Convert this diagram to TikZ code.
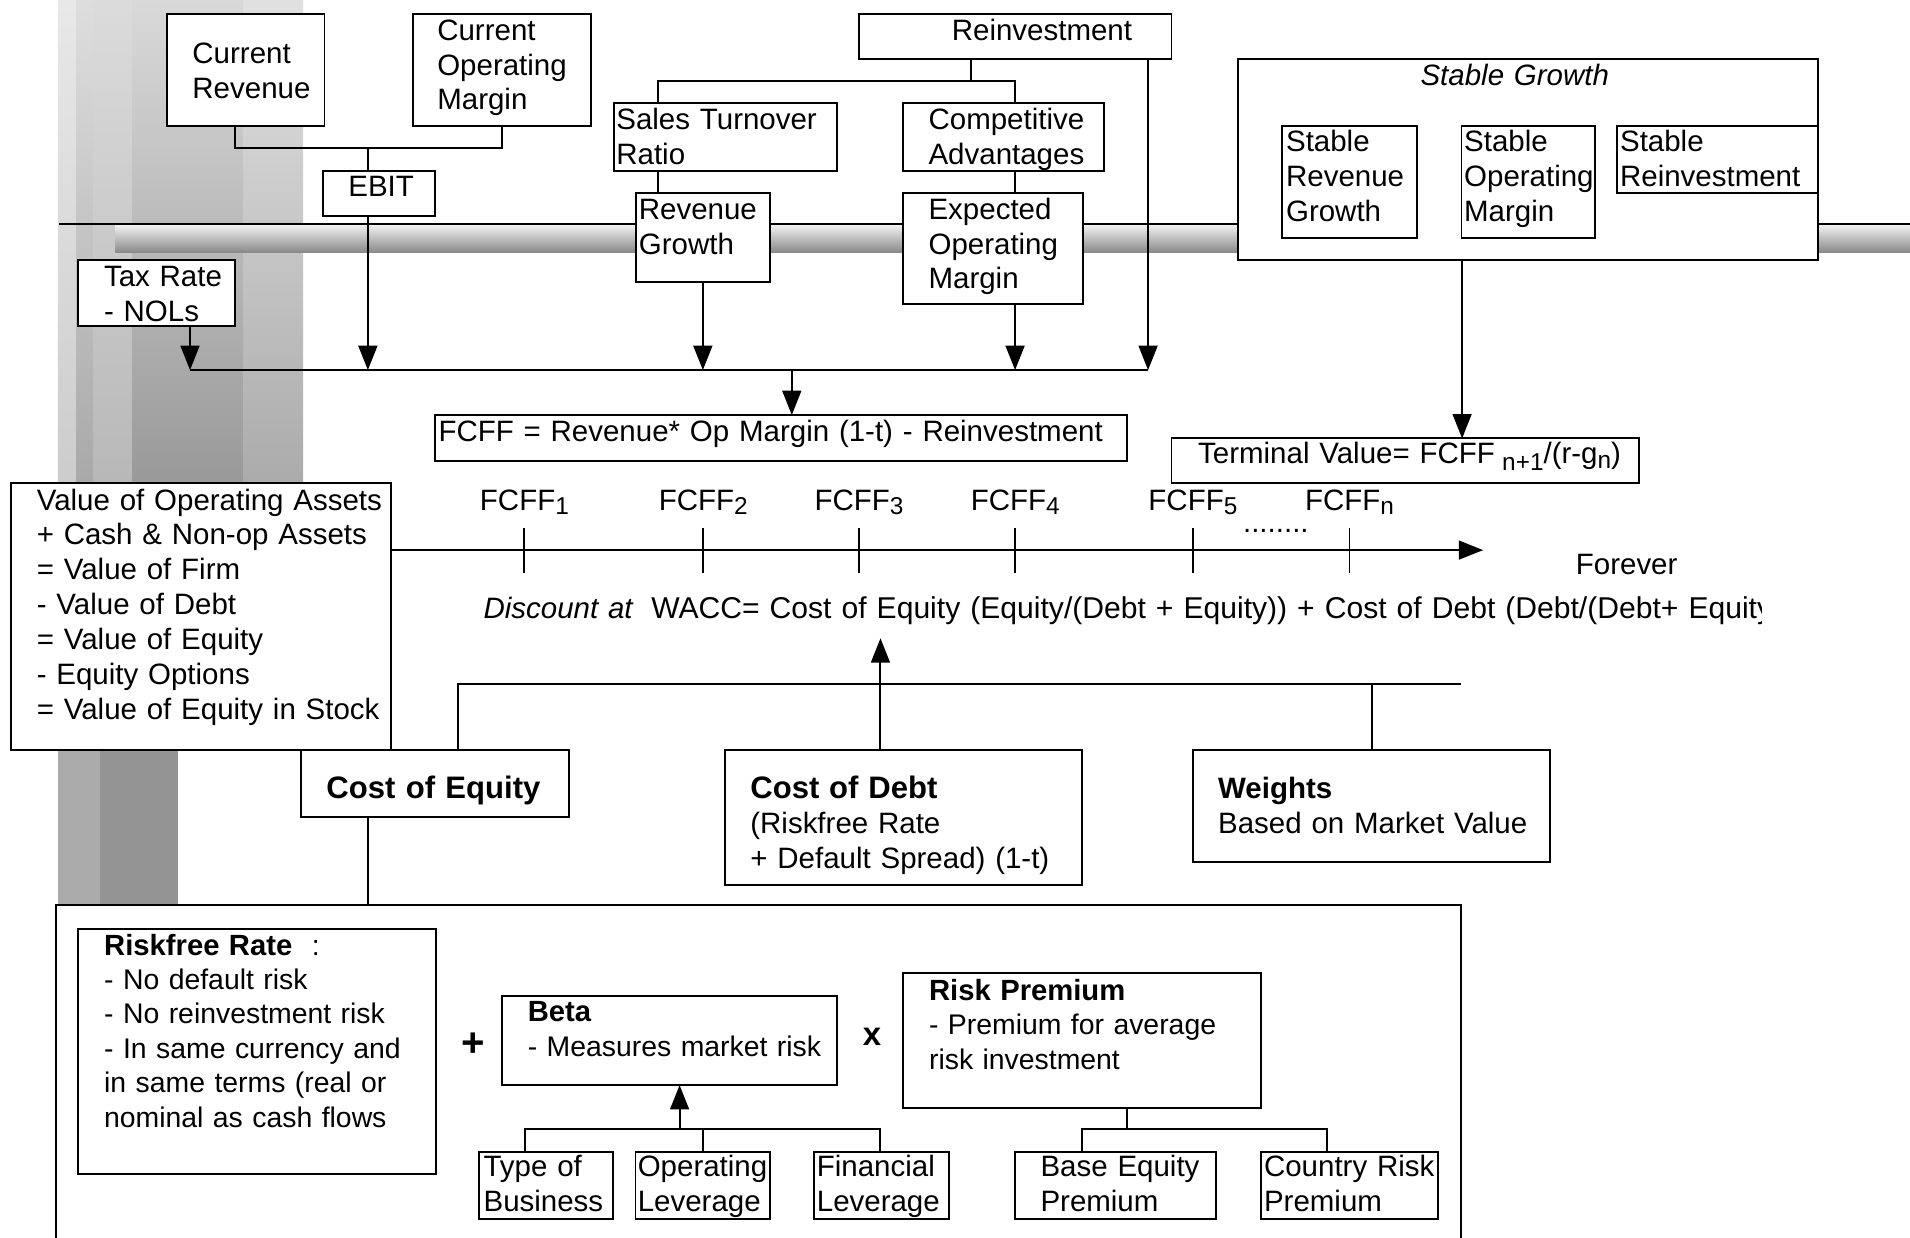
\documentclass[tikz,border=0pt]{standalone}
\usepackage{fontspec}
\setmainfont{Liberation Sans}
\usetikzlibrary{arrows.meta}
\newcommand{\fA}{\fontsize{24.2}{28.6}\selectfont}
\newcommand{\fB}{\fontsize{23.3}{28.3}\selectfont}
\newcommand{\bt}[1]{{\fontsize{24}{28.3}\selectfont\bfseries #1}}
\newcommand{\mysub}[2][-4pt]{\raisebox{#1}{\fontsize{20}{20}\selectfont #2}}
\newcommand{\bx}[5]{\node[box, anchor=north west, minimum width={#4-#2}, minimum height={#5-#3}] (#1) at (#2,#3) {};}
\begin{document}
\begin{tikzpicture}[x=1pt,y=-1pt,
  box/.style={draw, line width=1.6pt, fill=white, inner sep=0pt, outer sep=0pt},
  ln/.style={line width=1.6pt},
  arr/.style={line width=1.6pt, -{Triangle[length=20pt,width=15.5pt]}},
  txt/.style={anchor=base west, inner sep=0pt, outer sep=0pt, font=\fA, align=left, text width=1000pt},
  txtb/.style={txt, font=\fB},
  lbl/.style={anchor=base, inner sep=0pt, outer sep=0pt, font=\fA},
]
\useasboundingbox (0,0) rectangle (1568,1016);
\clip (0,0) rectangle (1568,1016);
\fill[white] (0,0) rectangle (1568,1016);
% ---------- background band ----------
\shade[top color=black!9,  bottom color=black!20] (47.6,0) rectangle (62.4,400);
\shade[top color=black!13, bottom color=black!34] (62.4,0) rectangle (76.4,400);
\shade[top color=black!14, bottom color=black!28] (76.4,0) rectangle (108.4,400);
\shade[top color=black!15, bottom color=black!40] (108.4,0) rectangle (199.5,400);
\shade[top color=black!12, bottom color=black!33] (199.5,0) rectangle (248.8,400);
\fill[black!33] (47.6,612) rectangle (82.1,743);
\fill[black!42] (82.1,612) rectangle (146.1,743);
% ---------- horizontal bar ----------
\shade[top color=black!7, middle color=black!20, bottom color=black!46] (94.5,185.5) rectangle (1568,207);
\draw[line width=1.4pt] (48.5,184) -- (1568,184);
% ---------- boxes ----------
\bx{currev}{137.4}{11.5}{266.4}{103.5}
\bx{curopm}{339}{11.5}{485}{103.5}
\bx{ebit}{265}{140}{357}{177}
\bx{tax}{64}{213.5}{193}{268}
\bx{reinv}{705}{11.5}{961.7}{48.7}
\bx{sales}{503.7}{84.8}{687}{140.1}
\bx{comp}{741.5}{84.8}{906.4}{140.1}
\bx{revg}{521.8}{158.2}{632.3}{231.8}
\bx{expm}{741.5}{158.2}{888.7}{249.9}
\bx{stable}{1016}{48.7}{1492.6}{213.5}
\bx{srg}{1052.8}{103.4}{1162.9}{195.7}
\bx{som}{1199.8}{103.4}{1309.4}{195.7}
\bx{sri}{1327.2}{103.4}{1492.6}{158.7}
\bx{fcff}{356.8}{340.7}{925}{378.5}
\bx{tv}{961.7}{359.9}{1345.8}{396.3}
\bx{value}{9.4}{396.3}{320.6}{615.8}
\bx{coe}{247.3}{615.8}{467.3}{671}
\bx{cod}{595.2}{615.8}{888.4}{726.6}
\bx{wts}{979.3}{615.8}{1272.6}{707.4}
\bx{big}{46.2}{743}{1199}{1040}
\bx{rf}{64.3}{763}{357.9}{963.9}
\bx{beta}{412.2}{817.5}{687.1}{890.8}
\bx{rp}{741.5}{799.1}{1035}{909.4}
\bx{tob}{393.5}{945.5}{503.6}{1000.8}
\bx{opl}{521.7}{945.5}{632.3}{1000.8}
\bx{finl}{668.5}{945.5}{779}{1000.8}
\bx{bep}{833}{945.5}{998}{1000.8}
\bx{crp}{1035}{945.5}{1180.5}{1000.8}
% ---------- texts ----------
\node[txt] (tCurRev) at (158,52) {Current\\Revenue};
\node[txt] (tCurOpm) at (359,33) {Current\\Operating\\Margin};
\node[txt] (tEbit) at (286,161.5) {EBIT};
\node[txt] (tTax) at (85.4,235.4) {Tax Rate\\- NOLs};
\node[txt] (tReinv) at (781.4,33.4) {Reinvestment};
\node[txt] (tSales) at (506,106.7) {Sales Turnover\\Ratio};
\node[txt] (tComp) at (762.3,106.7) {Competitive\\Advantages};
\node[txt] (tRevg) at (524.5,180) {Revenue\\Growth};
\node[txt] (tExpm) at (762.3,180) {Expected\\Operating\\Margin};
\node[txt] (tStable) at (1166.2,69.8) {\itshape Stable Growth};
\node[txt] (tSrg) at (1055.8,124.5) {Stable\\Revenue\\Growth};
\node[txt] (tSom) at (1202,124.5) {Stable\\Operating\\Margin};
\node[txt] (tSri) at (1330,124.5) {Stable\\Reinvestment};
\node[txt] (tFcff) at (360,362.6) {FCFF = Revenue* Op Margin (1-t) - Reinvestment};
\node[txt] (tTv) at (983.6,380.4) {Terminal Value= FCFF\hspace{6pt}\mysub[-5.5pt]{n+1}/(r-g\mysub{n})};
\node[txt] (tValue) at (30.2,418.7) {Value of Operating Assets\\+ Cash \& Non-op Assets\\= Value of Firm\\- Value of Debt\\= Value of Equity\\- Equity Options\\= Value of Equity in Stock};
\node[lbl] (f1) at (430.5,418.7) {FCFF\mysub{1}};
\node[lbl] (f2) at (577.3,418.7) {FCFF\mysub{2}};
\node[lbl] (f3) at (705.2,418.7) {FCFF\mysub{3}};
\node[lbl] (f4) at (833.5,418.7) {FCFF\mysub{4}};
\node[lbl] (f5) at (979.3,418.7) {FCFF\mysub{5}};
\node[lbl] (fn) at (1107.9,418.7) {FCFF\mysub{n}};
\node[txt] (dots) at (1020.5,437) {........};
\node[txt] (forever) at (1293.7,472) {Forever};
\node[txt] (disc) at (397,507.6) {\itshape Discount at};
\begin{scope}
\clip (530,470) rectangle (1446,530);
\node[txt, font=\fontsize{24.7}{28.6}\selectfont] (wacc) at (534.7,507.6) {WACC= Cost of Equity (Equity/(Debt + Equity)) + Cost of Debt (Debt/(Debt+ Equity))};
\end{scope}
\node[txt, font=\fontsize{25.5}{28.6}\selectfont\bfseries] (tCoe) at (268,655.4) {Cost of Equity};
\node[txt] (tCod) at (616,655.4) {{\fontsize{25.5}{28.6}\selectfont\bfseries Cost of Debt}\\(Riskfree Rate\\+ Default Spread) (1-t)};
\node[txt] (tWts) at (1000,655.4) {\textbf{Weights}\\Based on Market Value};
\node[txtb] (tRf) at (85.5,784) {\bt{Riskfree Rate}\hspace{16pt}:\\- No default risk\\- No reinvestment risk\\- In same currency and\\in same terms (real or\\nominal as cash flows};
\node[anchor=center, inner sep=0pt, font=\fontsize{33}{33}\selectfont\bfseries] (plus) at (388.3,857.3) {+};
\node[anchor=center, inner sep=0pt, font=\fontsize{27}{27}\selectfont\bfseries] (times) at (715.8,851.2) {x};
\node[txtb] (tBeta) at (433.3,838.8) {\bt{Beta}\\- Measures market risk};
\node[txtb] (tRp) at (762.7,821) {\bt{Risk Premium}\\- Premium for average\\risk investment};
\node[txt] (tTob) at (397,966) {Type of\\Business};
\node[txt] (tOpl) at (523.6,966) {Operating\\Leverage};
\node[txt] (tFinl) at (670.6,966) {Financial\\Leverage};
\node[txt] (tBep) at (854.2,966) {Base Equity\\Premium};
\node[txt] (tCrp) at (1037.7,966) {Country Risk\\Premium};
% ---------- connectors: top ----------
\coordinate (jce) at (302,121.8);
\draw[ln] ([xshift=-9.3pt]currev.south) |- (jce) -| (curopm.south);
\draw[ln] (jce) -- (ebit.north -| jce);
\coordinate (cTax) at (156,303.8);
\coordinate (cEbit) at (302,303.8);
\coordinate (cRev) at (577,303.8);
\coordinate (cF) at (650,303.8);
\coordinate (cExp) at (833.3,303.8);
\coordinate (cRe) at (942.5,303.8);
\draw[ln] (cTax) -- (cRe);
\draw[arr] (tax.south -| cTax) -- (cTax);
\draw[arr] (ebit.south -| cEbit) -- (cEbit);
\draw[arr] (revg.south -| cRev) -- (cRev);
\draw[arr] (expm.south -| cExp) -- (cExp);
\draw[arr] (reinv.south -| cRe) -- (cRe);
\draw[arr] (cF) -- (fcff.north -| cF);
\coordinate (jr) at (796.8,66.5);
\coordinate (xs) at (540.5,0);
\coordinate (xc) at (833.3,0);
\draw[ln] (reinv.south -| jr) -- (jr);
\draw[ln] (sales.north -| xs) |- (jr) -| (comp.north -| xc);
\draw[ln] (sales.south -| xs) -- (revg.north -| xs);
\draw[ln] (comp.south -| xc) -- (expm.north -| xc);
\coordinate (xtv) at (1200.3,0);
\draw[arr] (stable.south -| xtv) -- (tv.north -| xtv);
% ---------- timeline ----------
\coordinate (tl) at (1217.6,451.6);
\draw[arr] (value.east |- tl) -- (tl);
\foreach \x in {430.5,577.3,705.2,833.5,979.3,1107.9} { \draw[line width=1.5pt] (\x,433.8) -- (\x,470.2); }
% ---------- cost of capital ----------
\coordinate (jb1) at (375.9,561.6);
\coordinate (jb2) at (1199,561.6);
\coordinate (xw) at (1126.5,0);
\draw[ln] (coe.north -| jb1) -- (jb1) -- (jb2);
\draw[ln] (wts.north -| xw) -- (xw |- jb1);
\coordinate (wtip) at (722.8,524);
\draw[arr] (cod.north -| wtip) -- (wtip);
\coordinate (xce) at (302.2,0);
\draw[ln] (coe.south -| xce) -- (big.north -| xce);
% ---------- beta / risk premium ----------
\coordinate (bb1) at (430.7,927.2);
\coordinate (bb2) at (722.8,927.2);
\coordinate (xop) at (577,0);
\coordinate (btip) at (557.9,927.2);
\draw[ln] (tob.north -| bb1) -- (bb1) -- (bb2) -- (finl.north -| bb2);
\draw[ln] (opl.north -| xop) -- (xop |- bb1);
\draw[arr] (btip) -- (beta.south -| btip);
\coordinate (rb1) at (888,927.2);
\coordinate (rb2) at (1089.5,927.2);
\coordinate (xrp) at (925,0);
\draw[ln] (rp.south -| xrp) -- (xrp |- rb1);
\draw[ln] (bep.north -| rb1) -- (rb1) -- (rb2) -- (crp.north -| rb2);
\end{tikzpicture}
\end{document}
